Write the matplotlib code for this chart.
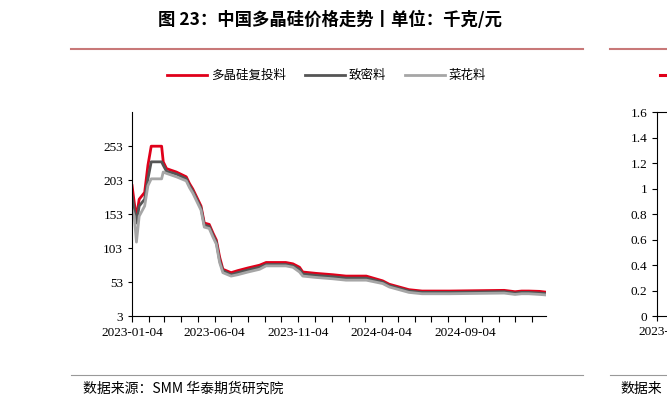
import matplotlib
matplotlib.use("Agg")
import matplotlib.pyplot as plt
import matplotlib.dates as mdates
import pandas as pd
import numpy as np

start = pd.Timestamp("2023-01-04")
days = [0, 4, 8, 13, 23, 29, 35, 54, 57, 63, 81, 99, 105, 111, 120, 126, 132, 141, 148, 154, 160, 166, 181, 193, 212, 233, 245, 281, 294, 306, 312, 336, 367, 391, 428, 458, 470, 488, 506, 530, 580, 680, 700, 712, 725, 745, 760]
red = [195, 170, 148, 175, 185, 225, 253, 253, 230, 220, 215, 208, 198, 190, 175, 165, 140, 138, 125, 115, 90, 72, 67, 70, 74, 78, 82, 82, 80, 75, 68, 66, 64, 62, 62, 55, 50, 46, 42, 40, 40, 41, 39, 40, 40, 39.5, 38]
dark = [180, 160, 140, 165, 175, 205, 230, 230, 225, 216, 212, 205, 195, 187, 172, 162, 137, 135, 122, 112, 85, 70, 64, 67, 71, 75, 79, 79, 77, 72, 65, 63, 61, 59, 59, 53, 48, 44, 40, 38, 38, 39, 37, 38, 38, 37, 36]
grey = [160, 150, 112, 150, 165, 195, 205, 205, 215, 213, 208, 202, 192, 184, 169, 159, 134, 132, 119, 109, 82, 67, 62, 64, 68, 72, 77, 77, 75, 68, 62, 60, 58, 56, 56, 51, 46, 42, 38, 36, 36, 37, 35, 36, 36, 35, 34]
dates = [start + pd.Timedelta(days=d) for d in days]
series = [("多晶硅复投料", red, "#e0001a"), ("致密料", dark, "#555555"), ("菜花料", grey, "#a6a6a6")]
yticks = [3, 53, 103, 153, 203, 253]
xlabels = ["2023-01-04", "2023-06-04", "2023-11-04", "2024-04-04", "2024-09-04"]

cjk = ["Noto Sans CJK SC", "DejaVu Sans"]
fig = plt.figure(figsize=(6.67, 4.08), dpi=100)
fig.text(0.495, 0.95, "图 23：中国多晶硅价格走势丨单位：千克/元", ha="center", va="center",
         fontsize=12.5, fontweight="heavy", family=cjk)
fig.add_artist(plt.Line2D([0.107, 0.874], [0.88, 0.88], color="#c87878", lw=1.5))
fig.add_artist(plt.Line2D([0.915, 1.0], [0.88, 0.88], color="#c87878", lw=1.5))
fig.add_artist(plt.Line2D([0.107, 0.874], [0.08, 0.08], color="#999999", lw=0.8))
fig.add_artist(plt.Line2D([0.915, 1.0], [0.08, 0.08], color="#999999", lw=0.8))
fig.text(0.125, 0.047, "数据来源：SMM 华泰期货研究院", ha="left", va="center", fontsize=10, family=cjk)
fig.text(0.93, 0.047, "数据来", ha="left", va="center", fontsize=10, family=cjk)

ax = fig.add_axes([0.198, 0.225, 0.621, 0.50])
for name, vals, c in series:
    ax.plot(dates, vals, color=c, lw=2.0, label=name)
ax.set_ylim(3, 303)
ax.set_yticks(yticks)
ax.set_xlim(start, start + pd.Timedelta(days=757))
ax.xaxis.set_minor_locator(mdates.MonthLocator(bymonthday=4))
ax.set_xticks([pd.Timestamp(s) for s in xlabels])
ax.set_xticklabels(xlabels)
for lab in ax.get_xticklabels() + ax.get_yticklabels():
    lab.set_family("Liberation Serif"); lab.set_fontsize(9.5)
ax.tick_params(which="both", direction="out", length=4, width=0.8)
ax.tick_params(axis="y", length=3)
for s in ["top", "right"]:
    ax.spines[s].set_visible(False)
ax.legend(loc="center", bbox_to_anchor=(0.47, 1.18), ncol=3, frameon=False,
          prop={"family": cjk, "size": 9}, handlelength=3.2, columnspacing=1.5, handletextpad=0.3)

ax2 = fig.add_axes([0.985, 0.225, 0.3, 0.50])
ax2.set_ylim(0, 1.6)
ax2.set_yticks(np.arange(0, 1.61, 0.2))
ax2.set_yticklabels(["0", "0.2", "0.4", "0.6", "0.8", "1", "1.2", "1.4", "1.6"], family="Liberation Serif", fontsize=9.5)
ax2.set_xticks([0]); ax2.set_xticklabels(["2023-0"], family="Liberation Serif", fontsize=9.5)
ax2.set_xlim(0, 1)
fig.add_artist(plt.Line2D([0.99, 1.0], [0.817, 0.817], color="#e0001a", lw=2.2))
fig.savefig("out.png", dpi=100)
